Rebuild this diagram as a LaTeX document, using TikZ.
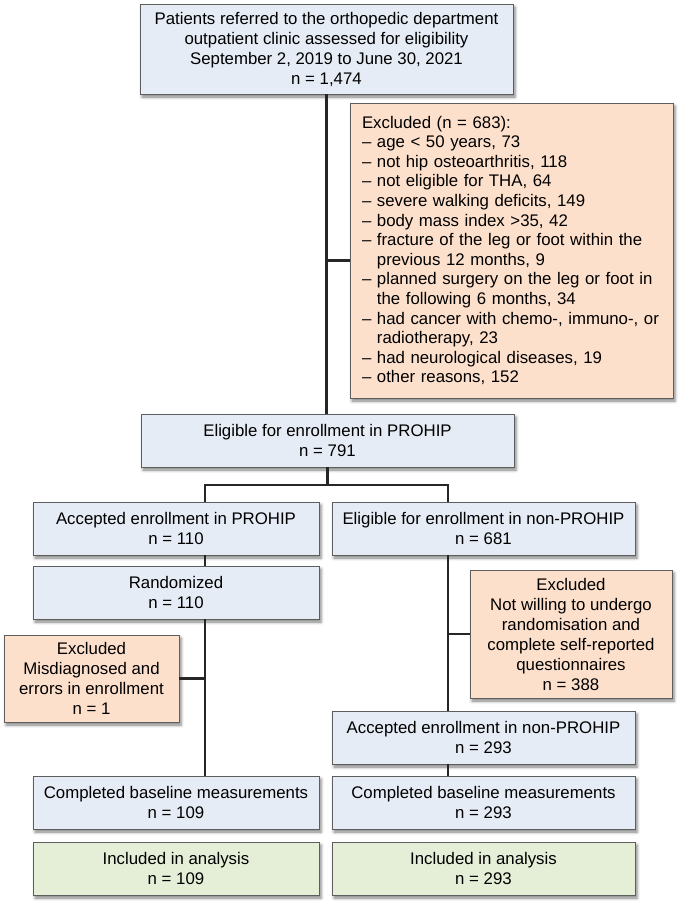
\documentclass[tikz,border=0pt]{standalone}
\usepackage{fontspec}
\setmainfont{Liberation Sans}
\usetikzlibrary{shadows.blur}
\definecolor{boxblue}{HTML}{E6ECF5}
\definecolor{boxorange}{HTML}{FDE0CC}
\definecolor{boxgreen}{HTML}{E5EFD8}
\definecolor{boxedge}{HTML}{5E5E5E}
\tikzset{
  box/.style={draw=boxedge, line width=0.9pt, fill=boxblue, align=center,
    inner sep=2pt, font=\fontsize{16.8}{20}\selectfont,
    blur shadow={shadow xshift=2pt, shadow yshift=-3pt,
      shadow blur radius=3pt, shadow opacity=50}},
  excl/.style={box, fill=boxorange},
  incl/.style={box, fill=boxgreen},
  flow/.style={line width=2.8pt, draw=black!85}
}
\begin{document}
\begin{tikzpicture}[x=1pt,y=-1pt]
      \useasboundingbox (0,0) rectangle (687,910);
      \path
        (326.5,49) node[box, minimum width=373pt, minimum height=90pt] (top)
          {Patients referred to the orthopedic department\\
           outpatient clinic assessed for eligibility\\
           September 2, 2019 to June 30, 2021\\ n = 1,474}
        (511.5,250.5) node[excl, align=left, text width=299pt, inner xsep=12pt,
          minimum height=295pt, font=\fontsize{16.8}{19.6}\selectfont] (exc1)
          {Excluded (n = 683):\\
           – age < 50 years, 73\\
           – not hip osteoarthritis, 118\\
           – not eligible for THA, 64\\
           – severe walking deficits, 149\\
           – body mass index >35, 42\\
           – fracture of the leg or foot within the\\
           \hphantom{– }previous 12 months, 9\\
           – planned surgery on the leg or foot in\\
           \hphantom{– }the following 6 months, 34\\
           – had cancer with chemo-, immuno-, or\\
           \hphantom{– }radiotherapy, 23\\
           – had neurological diseases, 19\\
           – other reasons, 152}
        (327.5,440.5) node[box, minimum width=373pt, minimum height=53pt] (elig)
          {Eligible for enrollment in PROHIP\\ n = 791}
        (176,528.5) node[box, minimum width=286pt, minimum height=53pt] (acc)
          {Accepted enrollment in PROHIP\\ n = 110}
        (483.5,528.5) node[box, minimum width=303pt, minimum height=53pt] (non)
          {Eligible for enrollment in non-PROHIP\\ n = 681}
        (176,592.5) node[box, minimum width=286pt, minimum height=53pt] (rand)
          {Randomized\\ n = 110}
        (91.5,678.5) node[excl, minimum width=175pt, minimum height=87pt] (exc2)
          {Excluded\\ Misdiagnosed and\\ errors in enrollment\\ n = 1}
        (571,634) node[excl, minimum width=202pt, minimum height=128pt] (exc3)
          {Excluded\\ Not willing to undergo\\ randomisation and\\
           complete self-reported\\ questionnaires\\ n = 388}
        (483.5,737.5) node[box, minimum width=303pt, minimum height=53pt] (accnon)
          {Accepted enrollment in non-PROHIP\\ n = 293}
        (176,802.5) node[box, minimum width=286pt, minimum height=53pt] (base1)
          {Completed baseline measurements\\ n = 109}
        (483.5,802.5) node[box, minimum width=303pt, minimum height=53pt] (base2)
          {Completed baseline measurements\\ n = 293}
        (176,868.5) node[incl, minimum width=286pt, minimum height=53pt] (inc1)
          {Included in analysis\\ n = 109}
        (483.5,868.5) node[incl, minimum width=303pt, minimum height=53pt] (inc2)
          {Included in analysis\\ n = 293};
      \coordinate (lcol) at (205,485);
      \coordinate (rcol) at (448,485);
      \begin{scope}[flow]
        \draw (top.south) -- (top.south |- elig.north);
        \draw ([yshift=-10pt]exc1.west) -- ([yshift=-10pt]exc1.west -| top.south);
        \draw (elig.south) -- (elig.south |- lcol);
        \draw (lcol |- acc.north) -- (lcol) -- (rcol) -- (rcol |- non.north);
        \draw (lcol |- acc.south) -- (lcol |- rand.north);
        \draw (lcol |- rand.south) -- (lcol |- base1.north);
        \draw (exc2.east) -- (exc2.east -| lcol);
        \draw (rcol |- non.south) -- (rcol |- accnon.north);
        \draw (exc3.west) -- (exc3.west -| rcol);
        \draw (rcol |- accnon.south) -- (rcol |- base2.north);
      \end{scope}
    \end{tikzpicture}
\end{document}
